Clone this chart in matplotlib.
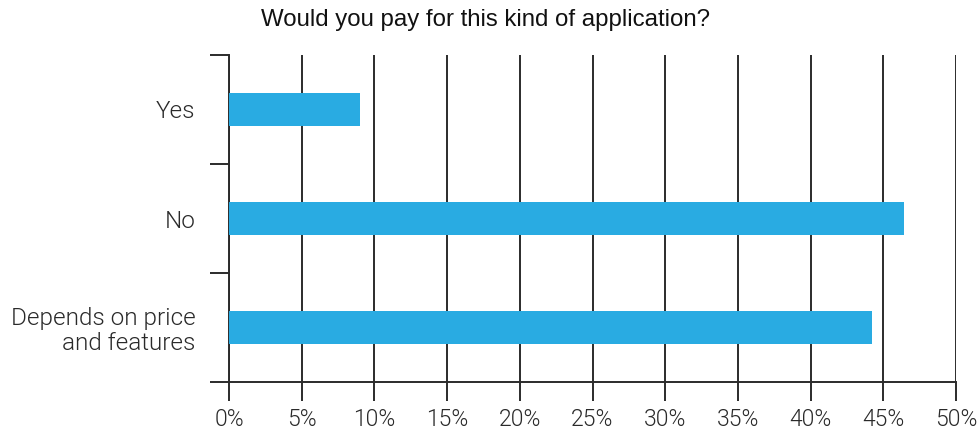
import matplotlib
matplotlib.use("Agg")
import matplotlib.pyplot as plt
from matplotlib.ticker import FixedLocator

categories = ["Yes", "No", "Depends on price\nand features"]
shares = [9.0, 46.4, 44.2]
x_ticks = [0, 5, 10, 15, 20, 25, 30, 35, 40, 45, 50]
x_tick_labels = [f"{v}%" for v in x_ticks]
title = "Would you pay for this kind of application?"

bar_color = "#29abe2"
line_color = "#2b2b2b"
text_color = "#2a2a2a"

fig = plt.figure(figsize=(9.77, 4.30), dpi=100)
ax = fig.add_axes([0.2344, 0.1116, 0.9785 - 0.2344, 0.8721 - 0.1116])

pos = list(range(len(categories)))
ax.barh(pos, shares, height=0.3, color=bar_color, zorder=3)

ax.set_xlim(0, 50)
ax.set_ylim(len(categories) - 0.5, -0.5)

label_font = dict(fontfamily="Roboto", fontweight=300, color=text_color)
ax.set_xticks(x_ticks)
ax.set_xticklabels(x_tick_labels, fontsize=16.5, **label_font)
ax.set_yticks(pos)
ax.set_yticklabels(categories, fontsize=17.5, multialignment="right",
                   linespacing=1.1, **label_font)
ax.yaxis.set_minor_locator(FixedLocator([p - 0.5 for p in pos] + [pos[-1] + 0.5]))

ax.tick_params(axis="y", which="major", length=0, pad=24)
ax.tick_params(axis="y", which="minor", length=14, width=1.4, color=line_color)
ax.tick_params(axis="x", which="major", length=14, width=1.4, color=line_color, pad=5)

ax.grid(axis="x", color=line_color, linewidth=1.4, zorder=1)
ax.set_axisbelow(True)

for side in ("top", "right"):
    ax.spines[side].set_visible(False)
for side in ("left", "bottom"):
    ax.spines[side].set_color(line_color)
    ax.spines[side].set_linewidth(1.4)

fig.text(0.4974, 0.953, title, ha="center", va="center", fontsize=17.3,
         fontfamily=["Liberation Sans", "DejaVu Sans"], color="#111111")

fig.savefig("out.png", dpi=100)
